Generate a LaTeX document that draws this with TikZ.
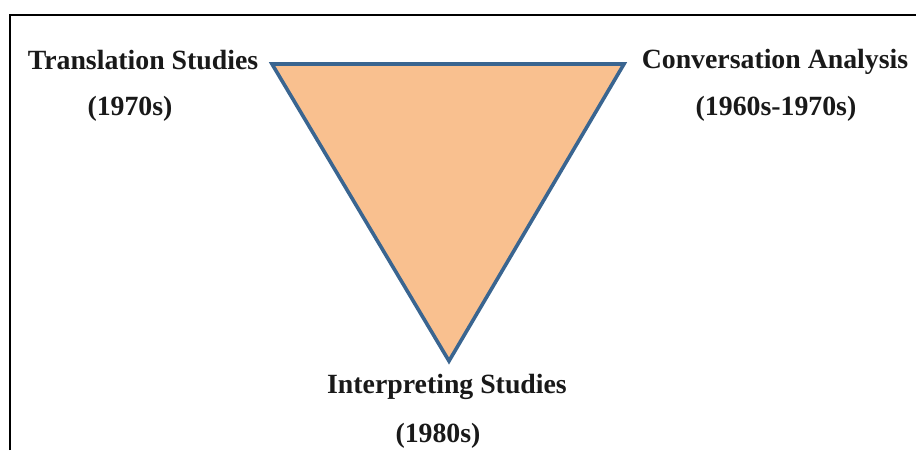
\documentclass[tikz,border=0pt]{standalone}
\usepackage{fontspec}
\setmainfont{Liberation Serif}
\definecolor{triFill}{HTML}{F9C08F}
\definecolor{triEdge}{HTML}{3A6590}
\tikzset{
  lbl/.style={anchor=base, inner sep=0pt, font=\fontsize{27.8}{30}\selectfont\bfseries, text=black!90},
  frameline/.style={draw=black, line width=2pt},
}
\begin{document}
\begin{tikzpicture}[x=1pt,y=-1pt]
\useasboundingbox (0,0) rectangle (916,450);
\fill[white] (0,0) rectangle (916,450);
\coordinate (fa) at (9.5,450);
\coordinate (fb) at (9.5,15);
\coordinate (fc) at (916,15);
\draw[frameline] (fa) -- (fb) -- (fc);
\coordinate (tl) at (272,64);
\coordinate (tr) at (624,64);
\coordinate (bt) at (449,361);
\draw[fill=triFill, draw=triEdge, line width=3.6pt, line join=miter] (tl) -- (tr) -- (bt) -- cycle;
\node[lbl] (ts) at (143,69) {Translation Studies};
\node[lbl] (ty) at (130,115) {(1970s)};
\node[lbl] (ca) at (775,68) {Conversation Analysis};
\node[lbl] (cy) at (776,115) {(1960s-1970s)};
\node[lbl] (is) at (447,393) {Interpreting Studies};
\node[lbl] (iy) at (438,442) {(1980s)};
\end{tikzpicture}
\end{document}
